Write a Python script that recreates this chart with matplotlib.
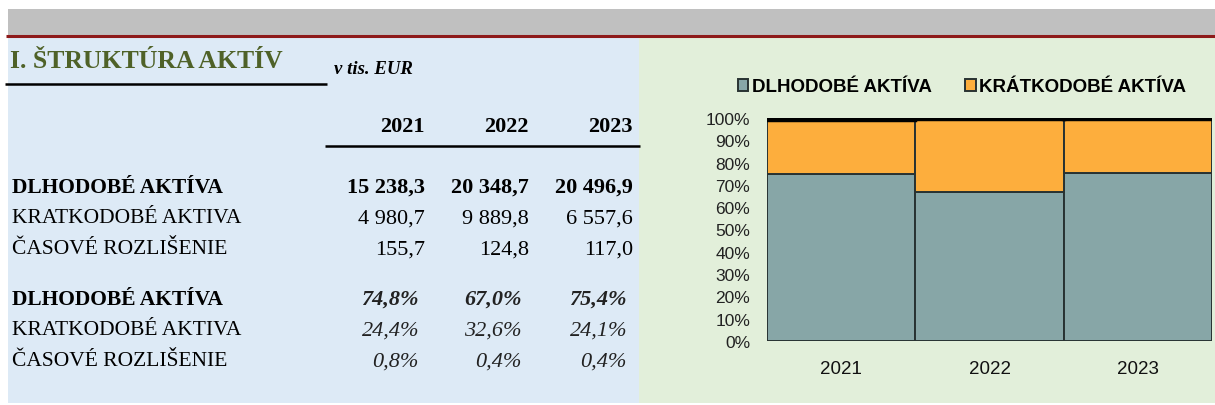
import matplotlib
matplotlib.use("Agg")
import matplotlib.pyplot as plt
from matplotlib.patches import Rectangle
from matplotlib.lines import Line2D
import numpy as np

# ---- data ----
years = ["2021", "2022", "2023"]
row_labels = ["DLHODOBÉ AKTÍVA", "KRATKODOBÉ AKTIVA", "ČASOVÉ ROZLIŠENIE"]
long_term = [15238.3, 20348.7, 20496.9]
short_term = [4980.7, 9889.8, 6557.6]
accruals = [155.7, 124.8, 117.0]
pct_long = [74.8, 67.0, 75.4]
pct_short = [24.4, 32.6, 24.1]
pct_accr = [0.8, 0.4, 0.4]
legend_labels = ["DLHODOBÉ AKTÍVA", "KRÁTKODOBÉ AKTÍVA"]
title = "I. ŠTRUKTÚRA AKTÍV"
unit = "v tis. EUR"

W, H = 1215, 406
fig = plt.figure(figsize=(W / 100, H / 100), dpi=100)
fig.patch.set_facecolor("white")


def fx(x):
    return x / W


def fy(y):
    return 1 - y / H


def rect(x0, y0, x1, y1, color):
    fig.patches.append(Rectangle((fx(x0), fy(y1)), fx(x1) - fx(x0), fy(y0) - fy(y1),
                                 transform=fig.transFigure, facecolor=color,
                                 edgecolor="none", zorder=-5))


def hline(x0, x1, y, color, lw):
    fig.lines.append(Line2D([fx(x0), fx(x1)], [fy(y), fy(y)], transform=fig.transFigure,
                            color=color, lw=lw, zorder=2, solid_capstyle="butt"))


# backgrounds
rect(8, 10, W, 36, "#c0c0c0")
rect(8, 38, 639, 404, "#ddeaf6")
rect(639, 38, W, 404, "#e2efda")
hline(6, W, 37, "#8e1a1a", 2.2)

serif = "Liberation Serif"
sans = "Liberation Sans"

# title
fig.text(fx(10), fy(61), title, family=serif, weight="bold", fontsize=18.5,
         color="#4f6228", ha="left", va="center")
hline(5, 327, 85, "black", 1.8)
fig.text(fx(334), fy(70), unit, family=serif, weight="bold", style="italic",
         fontsize=13.5, color="black", ha="left", va="center")

FS_LAB = 15.5
FS_NUM = 16

col_x = [425, 529, 633]
for x, yr in zip(col_x, years):
    fig.text(fx(x), fy(127), yr, family=serif, weight="bold", fontsize=FS_NUM,
             ha="right", va="center")
hline(325, 640, 147, "black", 1.8)


def fmt_num(v):
    s = f"{v:,.1f}"
    return s.replace(",", " ").replace(".", ",")


def fmt_pct(v):
    return f"{v:.1f}%".replace(".", ",")


abs_rows = [long_term, short_term, accruals]
pct_rows = [pct_long, pct_short, pct_accr]
abs_y = [188, 219, 250]
pct_y = [300, 331, 362]
for i, (lab, vals, y) in enumerate(zip(row_labels, abs_rows, abs_y)):
    w = "bold" if i == 0 else "normal"
    fig.text(fx(12), fy(y), lab, family=serif, weight=w, fontsize=FS_LAB,
             ha="left", va="center")
    for x, v in zip(col_x, vals):
        fig.text(fx(x), fy(y), fmt_num(v), family=serif, weight=w, fontsize=FS_NUM,
                 ha="right", va="center")
pct_x = [419, 522, 627]
for i, (lab, vals, y) in enumerate(zip(row_labels, pct_rows, pct_y)):
    w = "bold" if i == 0 else "normal"
    fig.text(fx(12), fy(y), lab, family=serif, weight=w, fontsize=FS_LAB,
             ha="left", va="center")
    for x, v in zip(pct_x, vals):
        fig.text(fx(x), fy(y), fmt_pct(v), family=serif, weight=w, style="italic",
                 fontsize=FS_NUM, ha="right", va="center", color="#222222")

# ---- chart ----
ax = fig.add_axes([fx(767), fy(342), fx(1212) - fx(767), fy(119) - fy(342)])
ax.set_facecolor("none")
ax.set_zorder(1)
xpos = np.arange(len(years))
c_long = "#87a6a7"
c_short = "#fdae3d"
ec = "#283232"
b1 = ax.bar(xpos, pct_long, width=1.0, color=c_long, edgecolor=ec, lw=1.4,
            label=legend_labels[0])
b2 = ax.bar(xpos, pct_short, width=1.0, bottom=pct_long, color=c_short,
            edgecolor=ec, lw=1.4, label=legend_labels[1])
bottom3 = [a + b for a, b in zip(pct_long, pct_short)]
ax.bar(xpos, pct_accr, width=1.0, bottom=bottom3, color="black", edgecolor="black",
       lw=3.2)
ax.set_xlim(-0.5, 2.5)
ax.set_ylim(0, 100)
ax.set_yticks(np.arange(0, 101, 10))
ax.set_yticklabels([f"{t}%" for t in range(0, 101, 10)], family=sans, fontsize=12.5,
                   color="#222222")
ax.set_xticks(xpos)
ax.set_xticklabels(years, family=sans, fontsize=13.5, color="#111111")
ax.tick_params(axis="y", length=0, pad=12)
ax.tick_params(axis="x", length=0, pad=14)
for s in ax.spines.values():
    s.set_visible(False)

leg = fig.legend(handles=[b1, b2], labels=legend_labels, loc="center",
                 bbox_to_anchor=(fx(962), fy(88)), ncol=2, frameon=False,
                 prop={"family": sans, "weight": "bold", "size": 13.5},
                 handlelength=0.55, handleheight=0.55, handletextpad=0.2,
                 columnspacing=1.8)

fig.savefig("out.png", dpi=100)
